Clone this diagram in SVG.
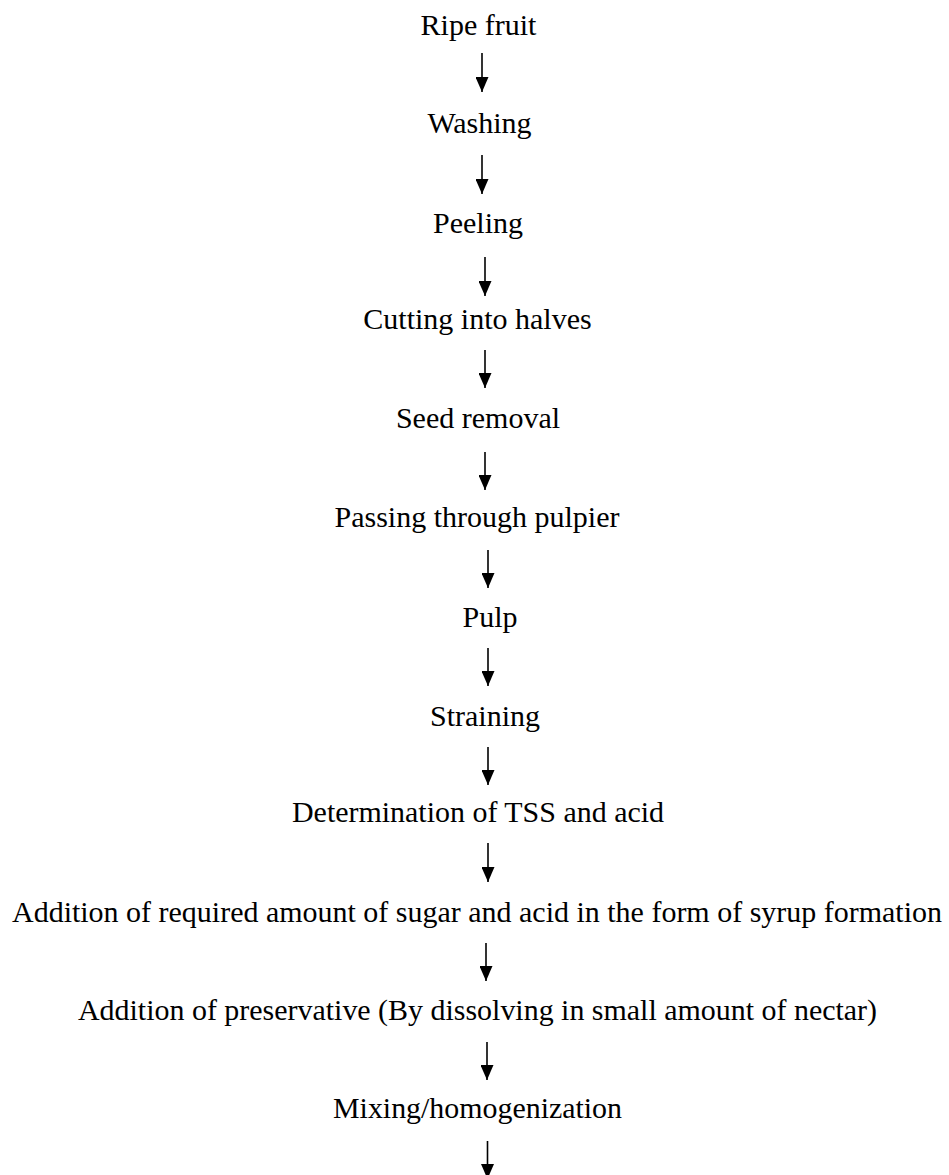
<svg xmlns="http://www.w3.org/2000/svg" width="949" height="1175" viewBox="0 0 949 1175">
<style>
text { font-family: "Liberation Serif", "Times New Roman", serif; font-size: 30px; fill: #000; text-anchor: middle; }
.conn { stroke: #000; stroke-width: 1.6; fill: none; marker-end: url(#ah); }
</style>
<defs>
<marker id="ah" markerUnits="userSpaceOnUse" viewBox="0 0 13 15" markerWidth="13" markerHeight="15" refX="6.5" refY="15" orient="0">
<polygon points="0,0 13,0 6.5,15" fill="#000"/>
</marker>
</defs>
<rect width="949" height="1175" fill="#fff"/>
<g id="n1"><text x="478.5" y="35">Ripe fruit</text></g>
<g id="n2"><text x="479.5" y="133">Washing</text></g>
<g id="n3"><text x="478" y="233">Peeling</text></g>
<g id="n4"><text x="477.5" y="329">Cutting into halves</text></g>
<g id="n5"><text x="478" y="428">Seed removal</text></g>
<g id="n6"><text x="477" y="527">Passing through pulpier</text></g>
<g id="n7"><text x="490" y="627">Pulp</text></g>
<g id="n8"><text x="485" y="726">Straining</text></g>
<g id="n9"><text x="478" y="822" textLength="372" lengthAdjust="spacingAndGlyphs">Determination of TSS and acid</text></g>
<g id="n10"><text x="477" y="922" textLength="930" lengthAdjust="spacingAndGlyphs">Addition of required amount of sugar and acid in the form of syrup formation</text></g>
<g id="n11"><text x="477.5" y="1020" textLength="799" lengthAdjust="spacingAndGlyphs">Addition of preservative (By dissolving in small amount of nectar)</text></g>
<g id="n12"><text x="477.5" y="1118" textLength="289" lengthAdjust="spacingAndGlyphs">Mixing/homogenization</text></g>
<g id="connectors">
<path class="conn" d="M482 53 V92"/>
<path class="conn" d="M482 155 V194"/>
<path class="conn" d="M485 257 V296"/>
<path class="conn" d="M485 350 V388"/>
<path class="conn" d="M485 452 V490"/>
<path class="conn" d="M488 550 V588"/>
<path class="conn" d="M488 648 V686"/>
<path class="conn" d="M488 747 V785"/>
<path class="conn" d="M488 843 V882"/>
<path class="conn" d="M486 943 V981"/>
<path class="conn" d="M487 1042 V1080"/>
<path class="conn" d="M487.5 1141 V1179"/>
</g>
</svg>
